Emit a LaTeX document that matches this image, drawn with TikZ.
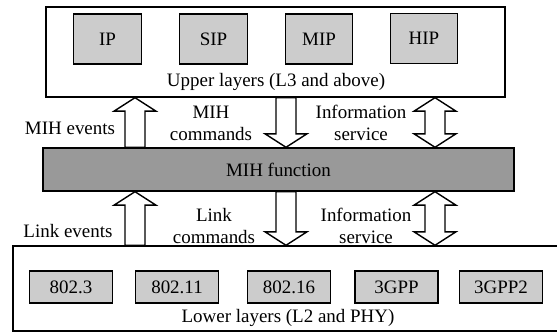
\documentclass[tikz,border=0pt]{standalone}
\usepackage{fontspec}
\setmainfont{Liberation Serif}
\usetikzlibrary{calc}
\definecolor{protogray}{gray}{0.8}
\definecolor{mihgray}{gray}{0.6}
\newcommand{\arrshaft}{0.2cm}
\newcommand{\arrhead}{0.42cm}
\newcommand{\arrlen}{0.27cm}
\tikzset{
  every node/.style={font=\fontsize{10.8}{12.4}\selectfont, inner sep=0pt},
  layer/.style={rectangle, draw, thick, fill=white,
                minimum width=9.18cm, minimum height=1.8cm},
  proto/.style={rectangle, draw, thick, fill=protogray,
                minimum width=1.35cm, minimum height=1cm},
  lproto/.style={proto, minimum width=1.66cm, minimum height=0.64cm},
  func/.style={rectangle, draw, thick, fill=mihgray,
               minimum width=9.42cm, minimum height=0.86cm},
  blk/.style={draw, thick, fill=white},
  lbl/.style={align=center}
}
\newcommand{\blkarrow}[2]{%
  \draw[blk] let \p1=(#1), \p2=(#2), \n1={ifthenelse(\y2>\y1,1,-1)*\arrlen} in
    (\x1-\arrshaft,\y1) -- (\x1-\arrshaft,{\y2-(\n1)}) -- (\x1-\arrhead,{\y2-(\n1)})
    -- (\x2,\y2) -- (\x1+\arrhead,{\y2-(\n1)}) -- (\x1+\arrshaft,{\y2-(\n1)})
    -- (\x1+\arrshaft,\y1) -- cycle;}
\newcommand{\blkboth}[2]{%
  \draw[blk] let \p1=(#1), \p2=(#2), \n1={ifthenelse(\y2>\y1,1,-1)*\arrlen} in
    (\x1,\y1) -- (\x1+\arrhead,{\y1+(\n1)}) -- (\x1+\arrshaft,{\y1+(\n1)})
    -- (\x1+\arrshaft,{\y2-(\n1)}) -- (\x1+\arrhead,{\y2-(\n1)}) -- (\x2,\y2)
    -- (\x1-\arrhead,{\y2-(\n1)}) -- (\x1-\arrshaft,{\y2-(\n1)})
    -- (\x1-\arrshaft,{\y1+(\n1)}) -- (\x1-\arrhead,{\y1+(\n1)}) -- cycle;}
\begin{document}
\begin{tikzpicture}[x=0.02cm, y=-0.02cm]
  \useasboundingbox (0,0) rectangle (557,333);
  \node[layer] (upper) at (275.5,52) {};
  \node[proto] (ip) at (107.5,39) {IP};
  \node[proto] (sip) at (213.5,39) {SIP};
  \node[proto] (mip) at (319,39) {MIP};
  \node[proto] (hip) at (424,38.5) {HIP};
  \node (uplbl) at (276,82) {Upper layers (L3 and above)};
  \node[func] (mih) at (278.5,169.5) {MIH function};
  \node[layer, minimum width=11.16cm, minimum height=1.7cm] (lower) at (292,288.5) {};
  \node[lproto] (e3) at (71,287) {802.3};
  \node[lproto] (e11) at (177,287) {802.11};
  \node[lproto] (e16) at (289,287) {802.16};
  \node[lproto] (gpp) at (396.5,287) {3GPP};
  \node[lproto] (gpp2) at (501,287) {3GPP2};
  \node (lowlbl) at (288,318) {Lower layers (L2 and PHY)};
  \coordinate (xl) at (135,0);
  \coordinate (xm) at (286,0);
  \coordinate (xr) at (435,0);
  \blkarrow{xl |- mih.north}{xl |- upper.south}
  \blkarrow{xm |- upper.south}{xm |- mih.north}
  \blkboth{xr |- upper.south}{xr |- mih.north}
  \blkarrow{xl |- lower.north}{xl |- mih.south}
  \blkarrow{xm |- mih.south}{xm |- lower.north}
  \blkboth{xr |- mih.south}{xr |- lower.north}
  \node (mihev) at (70,128) {MIH events};
  \node[lbl] (mihcmd) at (211,123) {MIH\\commands};
  \node[lbl] (upinfo) at (361,123) {Information\\service};
  \node (linkev) at (68,231) {Link events};
  \node[lbl] (linkcmd) at (214,226) {Link\\commands};
  \node[lbl] (lowinfo) at (366,226) {Information\\service};
\end{tikzpicture}
\end{document}
